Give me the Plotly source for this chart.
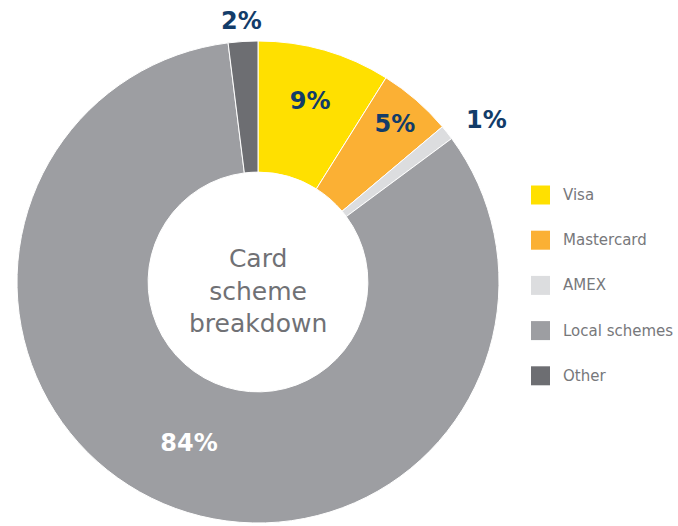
import math
import plotly.graph_objects as go

labels = ["Visa", "Mastercard", "AMEX", "Local schemes", "Other"]
values = [9, 5, 1, 84, 2]
colors = ["#FFE000", "#FBB034", "#DCDDDF", "#9D9EA2", "#6D6E72"]
text_colors = ["#123C69", "#123C69", "#123C69", "#FFFFFF", "#123C69"]
inside_label = [True, True, False, True, False]
center_title = "Card<br>scheme<br>breakdown"

W, H = 678, 526
cx, cy, R = 258, 282, 241
FONT = "DejaVu Sans"

fig = go.Figure()
fig.add_trace(go.Pie(
    labels=labels, values=values, hole=0.456, sort=False, direction="clockwise",
    rotation=0, marker=dict(colors=colors, line=dict(color="white", width=1)),
    texttemplate=["%{value}%" if ins else "" for ins in inside_label],
    textposition="inside",
    insidetextorientation="horizontal",
    textfont=dict(family=FONT, size=24, color=text_colors, weight="bold"),
    domain=dict(x=[(cx - R) / W, (cx + R) / W], y=[(H - cy - R) / H, (H - cy + R) / H]),
    showlegend=False, hoverinfo="label+percent",
))

annotations = []
# outside labels for small slices, placed along the slice's mid-angle
total = sum(values)
cum = 0
for lab, v, ins in zip(labels, values, inside_label):
    mid = (cum + v / 2) / total * 2 * math.pi
    cum += v
    if not ins:
        r = 262
        s, c = math.sin(mid), math.cos(mid)
        x = cx + r * s
        y = cy - r * c
        annotations.append(dict(x=x / W, y=1 - y / H, xref="paper", yref="paper",
                                text=f"{v}%", showarrow=False,
                                xanchor="left" if s > 0.3 else ("right" if s < -0.3 else "center"),
                                yanchor="middle",
                                font=dict(family=FONT, size=24, color="#123C69", weight="bold")))

annotations.append(dict(x=cx / W, y=1 - (cy + 9) / H, xref="paper", yref="paper",
                        text=center_title, showarrow=False,
                        font=dict(family=FONT, size=25, color="#707175")))

# legend
shapes = []
for i, (lab, col) in enumerate(zip(labels, colors)):
    yc = 195 + i * 45.2
    shapes.append(dict(type="rect", xref="paper", yref="paper",
                       x0=531 / W, x1=550 / W, y0=1 - (yc - 9.5) / H, y1=1 - (yc + 9.5) / H,
                       fillcolor=col, line=dict(width=0)))
    annotations.append(dict(x=561 / W, y=1 - yc / H, xref="paper", yref="paper",
                            text=lab, showarrow=False, xanchor="left", yanchor="middle",
                            font=dict(family=FONT, size=15, color="#77787B")))

fig.update_layout(width=W, height=H, margin=dict(l=0, r=0, t=0, b=0),
                  paper_bgcolor="white", plot_bgcolor="white",
                  annotations=annotations, shapes=shapes)
fig.write_html("out.html")
